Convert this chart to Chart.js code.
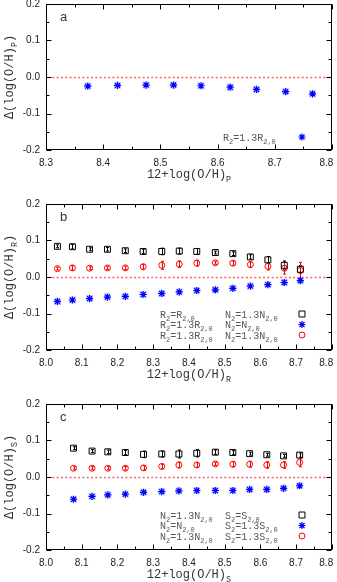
<!DOCTYPE html>
<html>
<head>
<meta charset="utf-8">
<script src="https://cdn.jsdelivr.net/npm/chart.js@4.4.1/dist/chart.umd.min.js"></script>
<style>
  html, body { margin: 0; padding: 0; background: #fff; overflow: hidden; width: 337px; height: 582px; position: relative; }
  canvas { position: absolute; left: 0; }
</style>
</head>
<body>
<canvas id="panelA" width="337" height="200" style="top:-12px"></canvas>
<canvas id="panelB" width="337" height="200" style="top:188px"></canvas>
<canvas id="panelC" width="337" height="200" style="top:388px"></canvas>
<script>
// ---- data ----
const yTicks   = [-0.2, -0.1, 0.0, 0.1, 0.2];
const xTicksA  = [8.3, 8.4, 8.5, 8.6, 8.7, 8.8];
const xTicksBC = [8.0, 8.1, 8.2, 8.3, 8.4, 8.5, 8.6, 8.7, 8.8];

// panel a : R2 = 1.3 R2,0
const xA       = [8.373, 8.425, 8.475, 8.523, 8.571, 8.622, 8.668, 8.719, 8.766];
const blueA    = [-0.025, -0.023, -0.022, -0.022, -0.024, -0.028, -0.034, -0.040, -0.046];
const blueAerr = [0.003, 0.003, 0.003, 0.003, 0.003, 0.003, 0.003, 0.003, 0.003];

// panel b
const xB        = [8.032, 8.074, 8.122, 8.172, 8.222, 8.272, 8.324, 8.373, 8.422, 8.474, 8.523, 8.572, 8.621, 8.667, 8.712];
const blackB    = [0.084, 0.083, 0.076, 0.076, 0.072, 0.070, 0.070, 0.071, 0.070, 0.067, 0.064, 0.055, 0.047, 0.032, 0.021];
const blackBerr = [0.004, 0.006, 0.004, 0.005, 0.005, 0.006, 0.009, 0.008, 0.008, 0.004, 0.005, 0.006, 0.009, 0.012, 0.010];
const redB      = [0.023, 0.025, 0.024, 0.025, 0.025, 0.028, 0.032, 0.035, 0.038, 0.039, 0.038, 0.034, 0.029, 0.024, 0.018];
const redBerr   = [0.004, 0.006, 0.004, 0.004, 0.005, 0.007, 0.011, 0.009, 0.008, 0.004, 0.006, 0.008, 0.010, 0.016, 0.022];
const blueB     = [-0.067, -0.063, -0.059, -0.055, -0.053, -0.048, -0.045, -0.041, -0.037, -0.035, -0.031, -0.025, -0.021, -0.015, -0.010];
const blueBerr  = [0.003, 0.003, 0.003, 0.003, 0.003, 0.003, 0.003, 0.003, 0.003, 0.003, 0.003, 0.003, 0.003, 0.004, 0.005];

// panel c
const xC        = [8.077, 8.129, 8.173, 8.222, 8.273, 8.324, 8.372, 8.422, 8.474, 8.523, 8.570, 8.618, 8.665, 8.710];
const blackC    = [0.079, 0.071, 0.069, 0.067, 0.062, 0.063, 0.063, 0.065, 0.068, 0.067, 0.064, 0.061, 0.058, 0.060];
const blackCerr = [0.004, 0.004, 0.005, 0.006, 0.009, 0.008, 0.011, 0.010, 0.006, 0.005, 0.004, 0.004, 0.004, 0.006];
const redC      = [0.024, 0.024, 0.024, 0.024, 0.025, 0.029, 0.033, 0.033, 0.036, 0.035, 0.035, 0.033, 0.033, 0.040];
const redCerr   = [0.004, 0.004, 0.004, 0.005, 0.006, 0.006, 0.008, 0.006, 0.004, 0.007, 0.008, 0.009, 0.009, 0.012];
const blueC     = [-0.061, -0.053, -0.049, -0.047, -0.042, -0.040, -0.038, -0.037, -0.037, -0.037, -0.034, -0.034, -0.031, -0.024];
const blueCerr  = [0.003, 0.003, 0.003, 0.003, 0.003, 0.003, 0.003, 0.003, 0.003, 0.003, 0.003, 0.003, 0.003, 0.003];

// ---- styles ----
const MONO = '"Liberation Mono", "DejaVu Sans Mono", monospace';
const SANS = '"Liberation Sans", Arial, sans-serif';
const BLACK_PT = { pointStyle: 'rect', radius: 4.2, borderColor: '#000', backgroundColor: 'rgba(0,0,0,0)', borderWidth: 1 };
const RED_PT   = { pointStyle: 'circle', radius: 3, borderColor: '#ff0000', backgroundColor: 'rgba(0,0,0,0)', borderWidth: 1 };
const BLUE_PT  = { pointStyle: 'star', radius: 3.6, borderColor: '#0000ff', backgroundColor: '#0000ff', borderWidth: 1.2 };
const HALO_PT  = { pointStyle: 'rect', radius: 5, borderColor: 'rgba(0,0,0,0)', backgroundColor: 'rgba(120,140,255,0.35)', borderWidth: 0 };

const pts = (xs, ys) => xs.map((x, i) => ({ x, y: ys[i] }));

function makeSet(xs, ys, err, st, color) {
  return {
    data: pts(xs, ys),
    err,
    errColor: color,
    showLine: false,
    pointStyle: st.pointStyle,
    pointRadius: st.radius,
    pointHoverRadius: st.radius,
    pointBorderColor: st.borderColor,
    pointBackgroundColor: st.backgroundColor,
    pointBorderWidth: st.borderWidth
  };
}

// blue stars sit on a pale square, so they get two datasets
function blueSets(xs, ys, err) {
  return [makeSet(xs, ys, err, BLUE_PT, '#0000ff'), makeSet(xs, ys, null, HALO_PT)];
}

/** Draw text with _{sub} parts, left aligned at x, baseline y */
function richWidth(ctx, str, size) {
  let w = 0;
  str.split(/(_\{[^}]*\})/).filter(Boolean).forEach(p => {
    const sub = p.startsWith('_{');
    ctx.font = (sub ? size * 0.7 : size) + 'px ' + MONO;
    w += ctx.measureText(sub ? p.slice(2, -1) : p).width;
  });
  return w;
}
function richText(ctx, str, x, y, size) {
  str.split(/(_\{[^}]*\})/).filter(Boolean).forEach(p => {
    const sub = p.startsWith('_{');
    const t = sub ? p.slice(2, -1) : p;
    ctx.font = (sub ? size * 0.7 : size) + 'px ' + MONO;
    ctx.fillText(t, x, sub ? y + size * 0.3 : y);
    x += ctx.measureText(t).width;
  });
}

// error bars + dotted zero line, under the markers
const underPlugin = {
  id: 'under',
  beforeDatasetsDraw(chart) {
    const { ctx, chartArea: a, scales: { x, y } } = chart;
    ctx.save();
    // dotted zero line
    const y0 = Math.round(y.getPixelForValue(0)) + 0.5;
    ctx.strokeStyle = '#ff6060';
    ctx.lineWidth = 1.3;
    ctx.setLineDash([2, 2.3]);
    ctx.beginPath(); ctx.moveTo(a.left + 2, y0); ctx.lineTo(a.right, y0); ctx.stroke();
    ctx.setLineDash([]);
    // error bars
    chart.data.datasets.forEach(ds => {
      if (!ds.err) return;
      ctx.strokeStyle = ds.errColor;
      ctx.lineWidth = 1;
      ds.data.forEach((p, i) => {
        const px = Math.round(x.getPixelForValue(p.x)) + 0.5;
        const t = y.getPixelForValue(p.y + ds.err[i]);
        const b = y.getPixelForValue(p.y - ds.err[i]);
        ctx.beginPath();
        ctx.moveTo(px, t); ctx.lineTo(px, b);
        ctx.moveTo(px - 1.5, t); ctx.lineTo(px + 1.5, t);
        ctx.moveTo(px - 1.5, b); ctx.lineTo(px + 1.5, b);
        ctx.stroke();
      });
    });
    ctx.restore();
  }
};

// frame, inward ticks, titles, panel letter, key
const decorPlugin = {
  id: 'decor',
  afterDraw(chart, args, o) {
    const { ctx, chartArea: a, scales: { x, y } } = chart;
    ctx.save();
    ctx.strokeStyle = '#000';
    ctx.lineWidth = 1;
    const L = Math.round(a.left) + 0.5, R = Math.round(a.right) - 0.5;
    const T = Math.round(a.top) + 0.5, B = Math.round(a.bottom) - 0.5;
    ctx.strokeRect(L, T, R - L, B - T);

    const tick = (vals, isX, len) => {
      vals.forEach(v => {
        if (isX) {
          const px = Math.round(x.getPixelForValue(v)) + 0.5;
          ctx.moveTo(px, B); ctx.lineTo(px, B - len);
          ctx.moveTo(px, T); ctx.lineTo(px, T + len);
        } else {
          const py = Math.round(y.getPixelForValue(v)) + 0.5;
          ctx.moveTo(L, py); ctx.lineTo(L + len, py);
          ctx.moveTo(R, py); ctx.lineTo(R - len, py);
        }
      });
    };
    const mids = t => t.slice(1).map((v, i) => (v + t[i]) / 2);
    ctx.beginPath();
    tick(o.xTicks, true, 5);
    tick(mids(o.xTicks), true, 3);
    tick(yTicks, false, 5);
    tick(mids(yTicks), false, 3);
    ctx.stroke();

    ctx.fillStyle = '#333';
    ctx.textBaseline = 'alphabetic';
    // x title
    const xt = '12+log(O/H)_{' + o.sub + '}';
    const w = richWidth(ctx, xt, 12);
    richText(ctx, xt, (a.left + a.right) / 2 - w / 2, a.bottom + 28, 12);
    // y title
    const yt = '\u0394(log(O/H)_{' + o.sub + '})';
    const wy = richWidth(ctx, yt, 12);
    ctx.save();
    ctx.translate(13, (a.top + a.bottom) / 2);
    ctx.rotate(-Math.PI / 2);
    richText(ctx, yt, -wy / 2, 0, 12);
    ctx.restore();

    // panel letter
    ctx.font = '13px ' + SANS;
    ctx.textBaseline = 'middle';
    ctx.fillText(o.letter, a.left + 14, a.top + 13);

    // key
    ctx.textBaseline = 'alphabetic';
    ctx.fillStyle = '#555';
    o.key.forEach((row, i) => {
      const cy = a.bottom - o.keyBottom - (o.key.length - 1 - i) * 10.5;
      row.text.forEach((t, j) => richText(ctx, t, o.keyX[j], cy + 3.5, 10));
      const st = row.style;
      if (st === BLUE_PT) Chart.helpers.drawPoint(ctx, HALO_PT, 302, cy);
      ctx.strokeStyle = st.borderColor;
      ctx.fillStyle = st.backgroundColor;
      ctx.lineWidth = st.borderWidth;
      Chart.helpers.drawPoint(ctx, st, 302, cy);
      ctx.fillStyle = '#555';
    });
    ctx.restore();
  }
};

function makeChart(id, datasets, xTicks, decor) {
  const last = xTicks.length - 1;
  return new Chart(document.getElementById(id), {
    type: 'scatter',
    data: { datasets },
    plugins: [underPlugin, decorPlugin],
    options: {
      responsive: false,
      devicePixelRatio: 1,
      animation: false,
      events: [],
      layout: { padding: { top: 16, right: 5, left: 0, bottom: 0 } },
      plugins: { legend: { display: false }, tooltip: { enabled: false }, decor: { xTicks, ...decor } },
      scales: {
        x: {
          min: xTicks[0], max: xTicks[last],
          grid: { display: false, drawTicks: false }, border: { display: false },
          afterBuildTicks: s => { s.ticks = xTicks.map(v => ({ value: v })); },
          afterFit: s => { s.height = 38; s.paddingLeft = 0; s.paddingRight = 0; },
          // last label is pulled inside the page edge, as in the figure
          ticks: { padding: 7, color: '#222', font: { family: SANS, size: 10 }, maxRotation: 0,
                   callback: (v, i) => v.toFixed(1) + (i === last ? '    ' : '') }
        },
        y: {
          min: yTicks[0], max: yTicks[yTicks.length - 1],
          grid: { display: false, drawTicks: false }, border: { display: false },
          afterBuildTicks: s => { s.ticks = yTicks.map(v => ({ value: v })); },
          afterFit: s => { s.width = 46; s.paddingTop = 0; s.paddingBottom = 0; },
          ticks: { padding: 6, color: '#222', font: { family: SANS, size: 10 }, callback: v => v.toFixed(1) }
        }
      }
    }
  });
}

makeChart('panelA', blueSets(xA, blueA, blueAerr), xTicksA, {
  letter: 'a', sub: 'P', keyX: [223], keyBottom: 13,
  key: [{ text: ['R_{2}=1.3R_{2,0}'], style: BLUE_PT }]
});

makeChart('panelB', [
  makeSet(xB, blackB, blackBerr, BLACK_PT, '#000'),
  makeSet(xB, redB, redBerr, RED_PT, '#ff0000'),
  ...blueSets(xB, blueB, blueBerr)
], xTicksBC, {
  letter: 'b', sub: 'R', keyX: [160, 225], keyBottom: 15,
  key: [
    { text: ['R_{2}=R_{2,0}', 'N_{2}=1.3N_{2,0}'], style: BLACK_PT },
    { text: ['R_{2}=1.3R_{2,0}', 'N_{2}=N_{2,0}'], style: BLUE_PT },
    { text: ['R_{2}=1.3R_{2,0}', 'N_{2}=1.3N_{2,0}'], style: RED_PT }
  ]
});

makeChart('panelC', [
  makeSet(xC, blackC, blackCerr, BLACK_PT, '#000'),
  makeSet(xC, redC, redCerr, RED_PT, '#ff0000'),
  ...blueSets(xC, blueC, blueCerr)
], xTicksBC, {
  letter: 'c', sub: 'S', keyX: [160, 225], keyBottom: 14,
  key: [
    { text: ['N_{2}=1.3N_{2,0}', 'S_{2}=S_{2,0}'], style: BLACK_PT },
    { text: ['N_{2}=N_{2,0}', 'S_{2}=1.3S_{2,0}'], style: BLUE_PT },
    { text: ['N_{2}=1.3N_{2,0}', 'S_{2}=1.3S_{2,0}'], style: RED_PT }
  ]
});
</script>
</body>
</html>
